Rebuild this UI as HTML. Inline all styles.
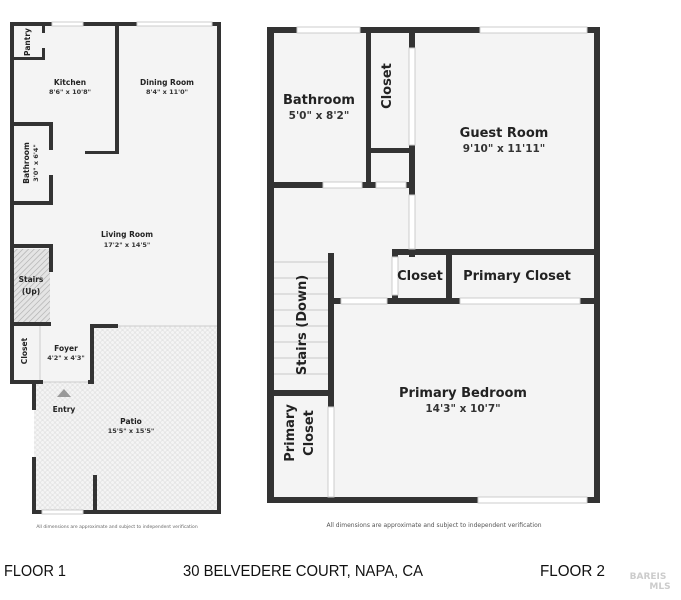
<!DOCTYPE html>
<html><head><meta charset="utf-8"><style>
html,body{margin:0;padding:0;background:#fff;width:681px;height:600px;overflow:hidden}
svg{display:block}
text{font-family:"DejaVu Sans","Liberation Sans",sans-serif;fill:#222;text-anchor:middle}
.s{font-size:7.5px;font-weight:bold}
.sd{font-size:6.5px;font-weight:bold;fill:#333}
.b{font-size:13px;font-weight:bold}
.bd{font-size:10.5px;font-weight:bold;fill:#333}
.ft{font-family:"Liberation Sans",sans-serif;font-size:16px;fill:#111;text-anchor:start}
</style></head><body>
<svg width="681" height="600" viewBox="0 0 681 600" xmlns="http://www.w3.org/2000/svg">
<defs>
<pattern id="pt" width="5" height="5" patternUnits="userSpaceOnUse">
<rect width="5" height="5" fill="#f4f4f4"/><circle cx="2.5" cy="2.5" r="1.9" fill="none" stroke="#dcdcdc" stroke-width="0.6"/>
</pattern>
<pattern id="ht" width="4" height="4" patternUnits="userSpaceOnUse" patternTransform="rotate(45)">
<rect width="4" height="4" fill="#e4e4e4"/><line x1="0" y1="0" x2="0" y2="4" stroke="#aaa" stroke-width="1.2"/>
</pattern>
</defs>

<!-- FLOOR 1 -->
<rect x="12" y="24" width="207" height="302" fill="#f4f4f4"/>
<rect x="34" y="326" width="185" height="187" fill="url(#pt)"/>
<rect x="12" y="326" width="78" height="56" fill="#f4f4f4"/>
<rect x="14" y="249" width="36" height="74" fill="url(#ht)"/>
<g fill="#333">
<rect x="10" y="22" width="42" height="4"/>
<rect x="83" y="22" width="54" height="4"/>
<rect x="212" y="22" width="9" height="4"/>
<rect x="217" y="22" width="4" height="492"/>
<rect x="10" y="22" width="4" height="362"/>
<rect x="10" y="380" width="32" height="4"/>
<rect x="32" y="382" width="4" height="28"/>
<rect x="32" y="457" width="4" height="57"/>
<rect x="32" y="510" width="10" height="4"/>
<rect x="83" y="510" width="138" height="4"/>
<rect x="93" y="475" width="4" height="37"/>
<rect x="42" y="22" width="3" height="11"/>
<rect x="42" y="48" width="3" height="12"/>
<rect x="10" y="57" width="35" height="3"/>
<rect x="115" y="22" width="4" height="132"/>
<rect x="85" y="151" width="34" height="3"/>
<rect x="10" y="122" width="43" height="4"/>
<rect x="49" y="122" width="4" height="28"/>
<rect x="49" y="175" width="4" height="30"/>
<rect x="10" y="201" width="43" height="4"/>
<rect x="10" y="244" width="43" height="4"/>
<rect x="49" y="244" width="4" height="28"/>
<rect x="10" y="322" width="41" height="4"/>
<rect x="90" y="324" width="28" height="4"/>
<rect x="90" y="324" width="4" height="60"/>
<rect x="38" y="380" width="5" height="4"/>
<rect x="88" y="380" width="6" height="4"/>
</g>
<g stroke="#ccc" stroke-width="1" fill="none">
<rect x="52" y="22" width="31" height="4" fill="#fff"/>
<rect x="137" y="22" width="75" height="4" fill="#fff"/>
<rect x="42" y="510" width="41" height="4" fill="#fff"/>
<line x1="118" y1="326" x2="217" y2="326"/>
<line x1="40" y1="326" x2="40" y2="380"/>
<line x1="43" y1="382" x2="88" y2="382"/>
</g>
<polygon points="57,397 64,389 71,397" fill="#999"/>

<text class="s" transform="translate(30,42) rotate(-90)">Pantry</text>
<text class="s" x="70" y="85">Kitchen</text><text class="sd" x="70" y="94">8'6" x 10'8"</text>
<text class="s" x="167" y="85">Dining Room</text><text class="sd" x="167" y="94">8'4" x 11'0"</text>
<text class="s" transform="translate(29,163) rotate(-90)">Bathroom</text>
<text class="sd" transform="translate(38,163) rotate(-90)">3'0" x 6'4"</text>
<text class="s" x="127" y="237">Living Room</text><text class="sd" x="127" y="247">17'2" x 14'5"</text>
<text class="s" x="31" y="282">Stairs</text><text class="s" x="31" y="294">(Up)</text>
<text class="s" transform="translate(27,351) rotate(-90)">Closet</text>
<text class="s" x="66" y="351">Foyer</text><text class="sd" x="66" y="360">4'2" x 4'3"</text>
<text class="s" x="64" y="412">Entry</text>
<text class="s" x="131" y="424">Patio</text><text class="sd" x="131" y="433">15'5" x 15'5"</text>
<text x="117" y="528" style="font-size:4.5px;fill:#666">All dimensions are approximate and subject to independent verification</text>

<!-- FLOOR 2 -->
<rect x="270" y="30" width="327" height="470" fill="#f4f4f4"/>
<g fill="#333">
<rect x="267" y="27" width="30" height="6"/>
<rect x="360" y="27" width="120" height="6"/>
<rect x="587" y="27" width="13" height="6"/>
<rect x="594" y="27" width="6" height="476"/>
<rect x="267" y="27" width="7" height="476"/>
<rect x="267" y="497" width="211" height="6"/>
<rect x="587" y="497" width="13" height="6"/>
<rect x="366" y="27" width="5" height="160"/>
<rect x="409" y="27" width="6" height="21"/>
<rect x="409" y="145" width="6" height="50"/>
<rect x="409" y="249" width="6" height="8"/>
<rect x="368" y="148" width="44" height="5"/>
<rect x="267" y="182" width="56" height="6"/>
<rect x="362" y="182" width="14" height="6"/>
<rect x="406" y="182" width="6" height="6"/>
<rect x="392" y="249" width="208" height="6"/>
<rect x="392" y="249" width="6" height="8"/>
<rect x="392" y="295" width="6" height="8"/>
<rect x="446" y="249" width="6" height="55"/>
<rect x="387" y="298" width="73" height="6"/>
<rect x="580" y="298" width="20" height="6"/>
<rect x="333" y="298" width="8" height="6"/>
<rect x="328" y="253" width="6" height="154"/>
<rect x="267" y="390" width="67" height="6"/>
</g>
<g stroke="#ccc" stroke-width="1" fill="#fff">
<rect x="297" y="27" width="63" height="6"/>
<rect x="480" y="27" width="107" height="6"/>
<rect x="478" y="497" width="109" height="6"/>
<rect x="323" y="182" width="39" height="6"/>
<rect x="376" y="182" width="30" height="6"/>
<rect x="409" y="48" width="6" height="97"/>
<rect x="409" y="195" width="6" height="54"/>
<rect x="392" y="257" width="6" height="38"/>
<rect x="341" y="298" width="46" height="6"/>
<rect x="460" y="298" width="120" height="6"/>
<rect x="328" y="407" width="6" height="90"/>
</g>
<g stroke="#bbb" stroke-width="0.8">
<line x1="274" y1="262" x2="328" y2="262"/><line x1="274" y1="278" x2="328" y2="278"/>
<line x1="274" y1="294" x2="328" y2="294"/><line x1="274" y1="310" x2="328" y2="310"/>
<line x1="274" y1="326" x2="328" y2="326"/><line x1="274" y1="342" x2="328" y2="342"/>
<line x1="274" y1="358" x2="328" y2="358"/><line x1="274" y1="374" x2="328" y2="374"/>
</g>
<text class="b" x="319" y="104">Bathroom</text><text class="bd" x="319" y="119">5'0" x 8'2"</text>
<text class="b" transform="translate(391,86) rotate(-90)">Closet</text>
<text class="b" x="504" y="137">Guest Room</text><text class="bd" x="504" y="152">9'10" x 11'11"</text>
<text class="b" x="420" y="280">Closet</text>
<text class="b" x="517" y="280">Primary Closet</text>
<text class="b" transform="translate(306,325) rotate(-90)">Stairs (Down)</text>
<text class="b" x="463" y="397">Primary Bedroom</text><text class="bd" x="463" y="412">14'3" x 10'7"</text>
<text class="b" transform="translate(294,433) rotate(-90)">Primary</text>
<text class="b" transform="translate(313,433) rotate(-90)">Closet</text>
<text x="434" y="527" style="font-size:6px;fill:#555">All dimensions are approximate and subject to independent verification</text>

<text class="ft" x="4" y="576" textLength="62" lengthAdjust="spacingAndGlyphs">FLOOR 1</text>
<text class="ft" x="183" y="576" textLength="240" lengthAdjust="spacingAndGlyphs">30 BELVEDERE COURT, NAPA, CA</text>
<text class="ft" x="540" y="576" textLength="65" lengthAdjust="spacingAndGlyphs">FLOOR 2</text>
<text x="648" y="579" style="font-size:9px;font-weight:bold;fill:#ccc">BAREIS</text>
<text x="660" y="589" style="font-size:9px;font-weight:bold;fill:#ccc">MLS</text>
</svg>
</body></html>
